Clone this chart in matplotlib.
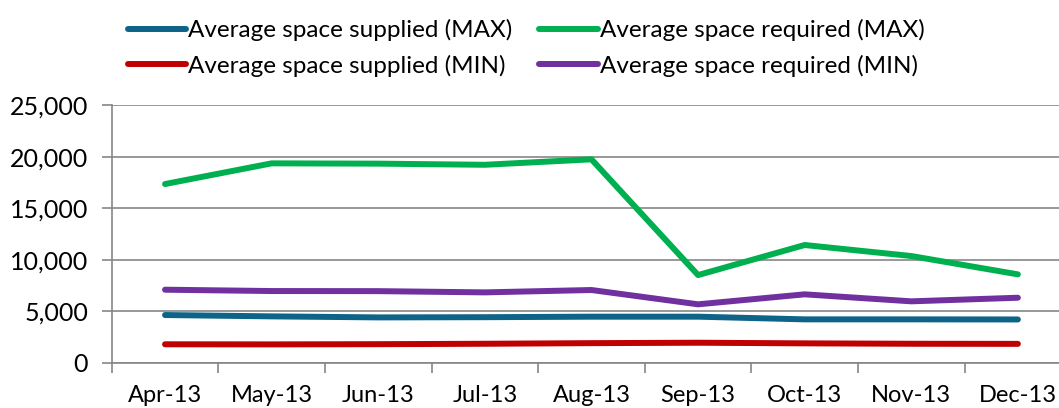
import matplotlib
matplotlib.use("Agg")
import matplotlib.pyplot as plt
import numpy as np
from matplotlib.ticker import FuncFormatter, FixedLocator

plt.rcParams['font.family'] = ['Lato', 'DejaVu Sans']

months = ['Apr-13', 'May-13', 'Jun-13', 'Jul-13', 'Aug-13', 'Sep-13', 'Oct-13', 'Nov-13', 'Dec-13']
supplied_max = [4630, 4500, 4400, 4420, 4470, 4470, 4210, 4210, 4200]
required_max = [17350, 19360, 19330, 19220, 19750, 8510, 11430, 10360, 8580]
supplied_min = [1790, 1780, 1800, 1840, 1900, 1940, 1880, 1840, 1830]
required_min = [7090, 6960, 6950, 6830, 7060, 5670, 6640, 5960, 6310]

fig = plt.figure(figsize=(10.59, 4.08), dpi=100)
ax = fig.add_axes([0.1055, 0.111, 0.906, 0.631])

x = np.arange(len(months))
series = [
    (supplied_max, '#0E6388', 'Average space supplied (MAX)'),
    (supplied_min, '#C00000', 'Average space supplied (MIN)'),
    (required_max, '#00B050', 'Average space required (MAX)'),
    (required_min, '#7030A0', 'Average space required (MIN)'),
]
handles = []
for vals, col, lab in series:
    h, = ax.plot(x, vals, color=col, lw=4.3, solid_capstyle='round',
                 solid_joinstyle='round', label=lab, zorder=3)
    handles.append(h)

ax.set_xlim(-0.5, len(months) - 0.5)
ax.set_ylim(0, 25000)
ax.set_yticks(np.arange(0, 25001, 5000))
ax.yaxis.set_major_formatter(FuncFormatter(lambda v, p: f'{int(v):,}'))
ax.set_xticks(x)
ax.set_xticklabels(months)
ax.xaxis.set_minor_locator(FixedLocator(np.arange(-0.5, len(months), 1.0)))

grid_col = '#868686'
ax.grid(axis='y', color=grid_col, lw=1.2, zorder=0)
for s in ['top', 'right']:
    ax.spines[s].set_visible(False)
for s in ['left', 'bottom']:
    ax.spines[s].set_color(grid_col)
    ax.spines[s].set_linewidth(1.2)

ax.tick_params(axis='x', which='major', length=0, pad=16, labelsize=17)
ax.tick_params(axis='x', which='minor', length=7, width=1.2, color=grid_col)
ax.tick_params(axis='y', length=7, width=1.2, color=grid_col, labelsize=18, pad=10)

fig.legend(handles=handles, loc='center', bbox_to_anchor=(0.497, 0.882), ncol=2,
           frameon=False, fontsize=17.5, handlelength=2.4, handletextpad=0.1,
           columnspacing=1.1, labelspacing=0.55)

fig.savefig('out.png', dpi=100)
